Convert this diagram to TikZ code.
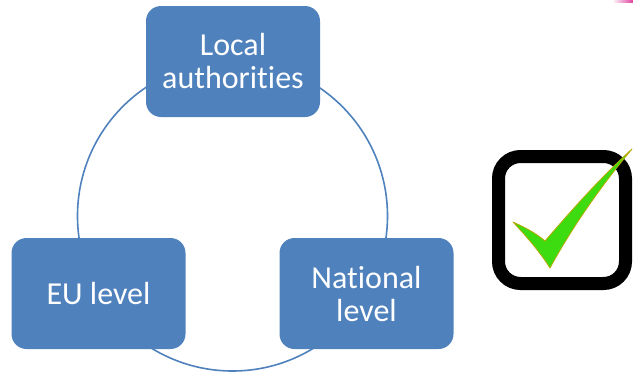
\documentclass[tikz,border=0pt]{standalone}
\usepackage{fontspec}
\setmainfont[RawFeature={-liga}]{Carlito}
\definecolor{boxblue}{HTML}{4F81BD}
\definecolor{chkgreen}{HTML}{3CDC10}
\definecolor{chkedge}{HTML}{B8A800}
\definecolor{pinkish}{HTML}{E040A0}
\begin{document}
\begin{tikzpicture}[x=1pt,y=-1pt,
  cyclebox/.style={fill=boxblue, rounded corners=15pt, text=white,
    font=\fontsize{32}{33}\selectfont, align=center, inner sep=0pt,
    minimum width=174pt, minimum height=111pt},
  ring/.style={draw=boxblue, line width=1.6pt}]
\useasboundingbox (0,0) rectangle (633,373);
% ring
\coordinate (c) at (232.5,216);
\draw[ring] (c) circle[radius=155];
% boxes
\node[cyclebox] (local) at (233,61.5) {Local\\authorities};
\node[cyclebox] (eu) at (98.5,293.5) {EU level};
\node[cyclebox] (nat) at (366.5,293.5) {National\\level};
% checkbox
\draw[line width=13pt, rounded corners=22pt] (498.5,156.5) rectangle (625.5,283.5);
\filldraw[fill=chkgreen, draw=chkedge, line width=0.8pt, line join=round]
  (513,222) .. controls (524,227) and (536,233) .. (545,241)
  .. controls (570,212) and (600,178) .. (632,149)
  .. controls (606,180) and (575,222) .. (550,268)
  .. controls (540,252) and (526,236) .. (513,222) -- cycle;
% pink sliver at top right
\shade[left color=white, right color=pinkish] (612,0) rectangle (633,2);
\end{tikzpicture}
\end{document}
